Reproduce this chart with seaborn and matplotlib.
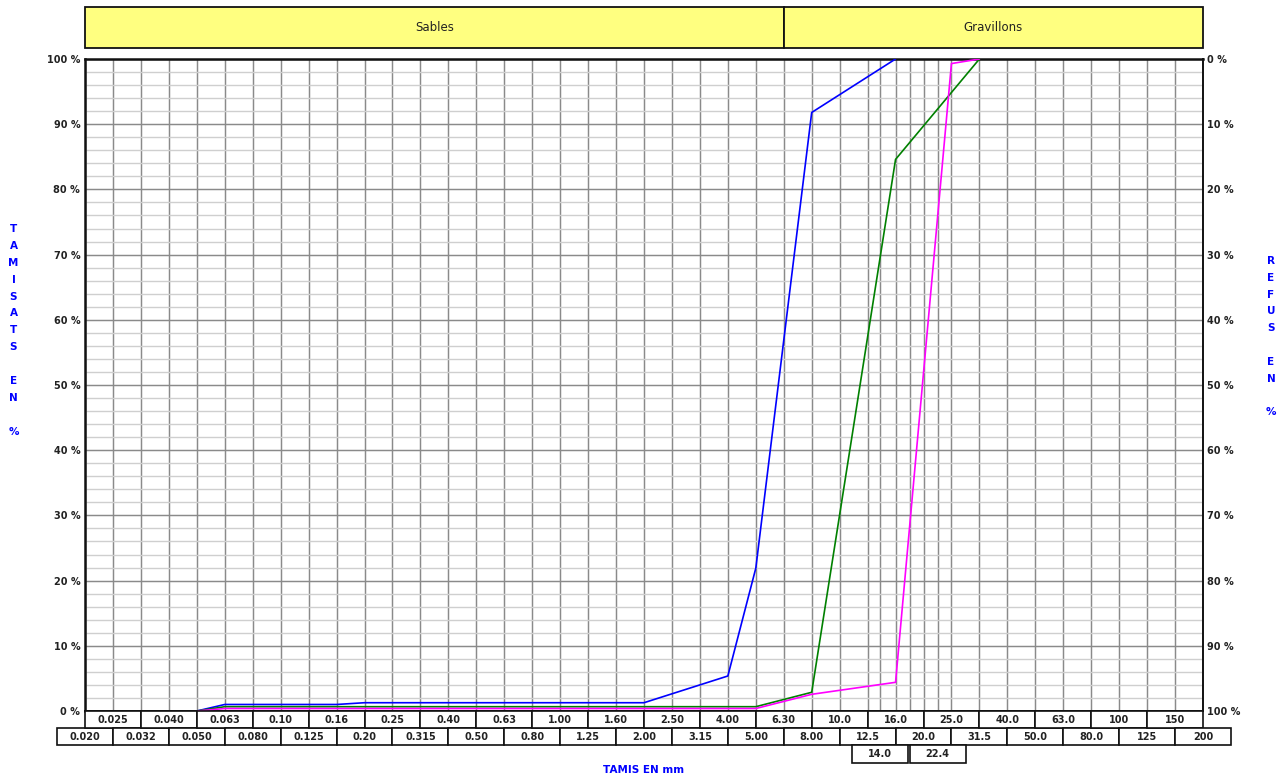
import numpy as np
import pandas as pd
import matplotlib
matplotlib.use("Agg")
import matplotlib.pyplot as plt
from matplotlib.patches import Rectangle
import seaborn as sns

# ---- sieve series (mm) and their printed labels ----
SIEVES = [0.020, 0.025, 0.032, 0.040, 0.050, 0.063, 0.080, 0.10, 0.125, 0.16,
          0.20, 0.25, 0.315, 0.40, 0.50, 0.63, 0.80, 1.00, 1.25, 1.60,
          2.00, 2.50, 3.15, 4.00, 5.00, 6.30, 8.00, 10.0, 12.5, 16.0,
          20.0, 25.0, 31.5, 40.0, 50.0, 63.0, 80.0, 100, 125, 150, 200]
SIEVE_LABELS = ["0.020", "0.025", "0.032", "0.040", "0.050", "0.063", "0.080", "0.10",
                "0.125", "0.16", "0.20", "0.25", "0.315", "0.40", "0.50", "0.63",
                "0.80", "1.00", "1.25", "1.60", "2.00", "2.50", "3.15", "4.00",
                "5.00", "6.30", "8.00", "10.0", "12.5", "16.0", "20.0", "25.0",
                "31.5", "40.0", "50.0", "63.0", "80.0", "100", "125", "150", "200"]
EXTRA_SIEVES = [14.0, 18.0, 22.4]
EXTRA_LABELS = {14.0: "14.0", 22.4: "22.4"}

ZONES = ["Sables", "Gravillons"]
ZONE_LIMIT = 6.30

# ---- passing percentages of the three curves ----
blue_sizes = [0.050, 0.063, 0.16, 0.20, 2.00, 4.00, 5.00, 8.00, 16.0]
blue_pass = [0.0, 1.0, 1.0, 1.27, 1.27, 5.37, 21.9, 91.8, 100.0]

green_sizes = [0.050, 0.063, 5.00, 8.00, 16.0, 31.5]
green_pass = [0.0, 0.66, 0.66, 2.87, 84.6, 100.0]

magenta_sizes = [0.050, 0.063, 5.00, 8.00, 16.0, 25.0, 31.5]
magenta_pass = [0.0, 0.38, 0.38, 2.56, 4.4, 99.3, 100.0]

PALETTE = {"courbe 1": "#0000ff", "courbe 2": "#008000", "courbe 3": "#ff00ff"}

df = pd.concat([
    pd.DataFrame({"tamis": blue_sizes, "passant": blue_pass, "courbe": "courbe 1"}),
    pd.DataFrame({"tamis": green_sizes, "passant": green_pass, "courbe": "courbe 2"}),
    pd.DataFrame({"tamis": magenta_sizes, "passant": magenta_pass, "courbe": "courbe 3"}),
], ignore_index=True)

# ---- sieve scale: every standard sieve gets one equal step ----
LOG_S = np.log10(np.array(SIEVES))
IDX = np.arange(len(SIEVES), dtype=float)
N_STEPS = len(SIEVES) - 1


def fwd(x):
    lx = np.log10(np.maximum(np.asarray(x, dtype=float), 1e-12))
    out = np.interp(lx, LOG_S, IDX)
    lo = (lx - LOG_S[0]) / (LOG_S[1] - LOG_S[0])
    hi = N_STEPS + (lx - LOG_S[-1]) / (LOG_S[-1] - LOG_S[-2])
    out = np.where(lx < LOG_S[0], lo, out)
    out = np.where(lx > LOG_S[-1], hi, out)
    return out


def inv(i):
    i = np.asarray(i, dtype=float)
    lx = np.interp(i, IDX, LOG_S)
    lo = LOG_S[0] + i * (LOG_S[1] - LOG_S[0])
    hi = LOG_S[-1] + (i - N_STEPS) * (LOG_S[-1] - LOG_S[-2])
    lx = np.where(i < 0, lo, lx)
    lx = np.where(i > N_STEPS, hi, lx)
    return 10 ** lx


sns.set_style("white")
plt.rcParams["font.family"] = ["DejaVu Sans"]

W, H = 1287, 778
fig = plt.figure(figsize=(W / 100, H / 100), dpi=100)
ax_left, ax_right, ax_top, ax_bottom = 85, 1203, 59, 711
ax = fig.add_axes([ax_left / W, (H - ax_bottom) / H,
                   (ax_right - ax_left) / W, (ax_bottom - ax_top) / H])
ax.set_xscale("function", functions=(fwd, inv))

sns.lineplot(data=df, x="tamis", y="passant", hue="courbe", palette=PALETTE,
             estimator=None, sort=False, legend=False, lw=1.2, ax=ax, zorder=5)

ax.set_xlim(SIEVES[0], SIEVES[-1])
ax.set_ylim(0, 100)
ax.set_xlabel("")
ax.set_ylabel("")

# grid
ax.set_xticks(SIEVES + EXTRA_SIEVES)
ax.xaxis.set_minor_locator(matplotlib.ticker.NullLocator())
ax.tick_params(axis="x", which="both", length=0, labelbottom=False)
ax.set_yticks(range(0, 101, 10))
ax.set_yticks(np.arange(0, 101, 2), minor=True)
ax.set_yticklabels([f"{v} %" for v in range(0, 101, 10)])
ax.tick_params(axis="y", which="both", length=0, pad=3.5, labelsize=7, labelcolor="#222222")
for lab in ax.get_yticklabels():
    lab.set_fontweight("bold")
ax.grid(True, which="major", axis="both", color="#8a8a8a", lw=1.05, zorder=1)
ax.grid(True, which="minor", axis="y", color="#cfcfcf", lw=1.0, zorder=0)
ax.set_axisbelow(True)
for side, sp in ax.spines.items():
    sp.set_color("#111111")
    sp.set_linewidth(1.4)
ax.spines["left"].set_linewidth(1.8)
ax.spines["top"].set_linewidth(1.8)

# retained percentages on the right
sec = ax.secondary_yaxis("right", functions=(lambda y: 100 - y, lambda y: 100 - y))
sec.set_yticks(range(0, 101, 10))
sec.set_yticklabels([f"{v} %" for v in range(0, 101, 10)])
sec.tick_params(length=0, pad=3, labelsize=7, labelcolor="#222222")
for lab in sec.get_yticklabels():
    lab.set_fontweight("bold")
sec.spines["right"].set_visible(False)

# ---- sieve label table under the axes ----
plot_h = ax_bottom - ax_top
row_h = 17.2 / plot_h


def cell(center_idx, row, text):
    x0 = (center_idx - 1) / N_STEPS
    y0 = -row_h * (row + 1)
    ax.add_patch(Rectangle((x0, y0), 2 / N_STEPS, row_h, transform=ax.transAxes,
                           facecolor="white", edgecolor="#111111", lw=1.2,
                           clip_on=False, zorder=6))
    ax.text(x0 + 1 / N_STEPS, y0 + row_h / 2, text, transform=ax.transAxes,
            ha="center", va="center", fontsize=7, fontweight="bold",
            color="#222222", clip_on=False, zorder=7)


for i, lab in enumerate(SIEVE_LABELS):
    cell(float(fwd(SIEVES[i])), 0 if i % 2 == 1 else 1, lab)
for s, lab in EXTRA_LABELS.items():
    cell(float(fwd(s)), 2, lab)

# ---- Sables / Gravillons header ----
split = float(fwd(ZONE_LIMIT)) / N_STEPS
hy0 = 1 + (ax_top - 48.3) / plot_h
hy1 = 1 + (ax_top - 6.7) / plot_h
for (x0, x1), name in zip([(0, split), (split, 1)], ZONES):
    ax.add_patch(Rectangle((x0, hy0), x1 - x0, hy1 - hy0, transform=ax.transAxes,
                           facecolor="#ffff80", edgecolor="#111111", lw=1.3,
                           clip_on=False, zorder=6))
    ax.text((x0 + x1) / 2, (hy0 + hy1) / 2, name, transform=ax.transAxes,
            ha="center", va="center", fontsize=8.5, color="#222222",
            clip_on=False, zorder=7)

# ---- axis titles ----
blue_txt = dict(color="#0000ff", fontsize=7.5, fontweight="bold", ha="center", va="center")
fig.text((ax_left + ax_right) / 2 / W, 1 - 770 / H, "TAMIS EN mm", **blue_txt)


def stacked(x_px, y_first_px, step_px, letters):
    for k, ch in enumerate(letters):
        if ch != " ":
            fig.text(x_px / W, 1 - (y_first_px + k * step_px) / H, ch, **blue_txt)


stacked(13.5, 229, 16.9, "TAMISATS EN %")
stacked(1271, 261, 16.8, "REFUS EN %")

fig.savefig("out.png", dpi=100)
